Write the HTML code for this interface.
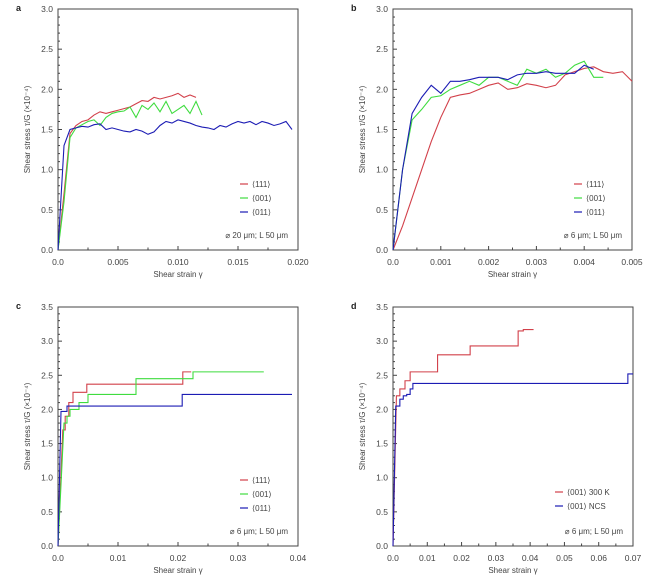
<!DOCTYPE html>
<html><head><meta charset="utf-8"><style>
body{margin:0;background:#fff;}
svg{display:block;font-family:"Liberation Sans",sans-serif;}
.tk{font-size:8.5px;fill:#444;}
.tt{font-size:8px;fill:#444;}
</style></head><body>
<svg id="c" width="650" height="582" viewBox="0 0 650 582"></svg>
<script>
// Panel a data
const aX = [0,0.0005,0.001,0.0015,0.002,0.0025,0.003,0.0035,0.004,0.0045,0.005,0.0055,0.006,0.0065,0.007,0.0075,0.008,0.0085,0.009,0.0095,0.010,0.0105,0.011,0.0115,0.012,0.0125,0.013,0.0135,0.014,0.0145,0.015,0.0155,0.016,0.0165,0.017,0.0175,0.018,0.0185,0.019,0.0195];
const aRed = [0,0.7,1.45,1.55,1.6,1.62,1.68,1.72,1.7,1.72,1.74,1.76,1.78,1.82,1.86,1.85,1.9,1.88,1.9,1.92,1.95,1.9,1.93,1.9];
const aGreen = [0,0.6,1.4,1.52,1.56,1.6,1.62,1.55,1.65,1.7,1.72,1.73,1.78,1.65,1.8,1.75,1.83,1.72,1.85,1.7,1.75,1.8,1.7,1.85,1.68];
const aBlue = [0,1.3,1.5,1.52,1.54,1.53,1.56,1.57,1.5,1.52,1.5,1.48,1.47,1.5,1.48,1.44,1.47,1.55,1.6,1.58,1.62,1.6,1.58,1.55,1.53,1.52,1.5,1.55,1.53,1.57,1.6,1.58,1.6,1.56,1.6,1.58,1.55,1.57,1.6,1.5];
// Panel b data
const bX = [0,0.0002,0.0004,0.0006,0.0008,0.001,0.0012,0.0014,0.0016,0.0018,0.002,0.0022,0.0024,0.0026,0.0028,0.003,0.0032,0.0034,0.0036,0.0038,0.004,0.0042,0.0044,0.0046,0.0048,0.005];
const bRed = [0,0.3,0.65,1.0,1.35,1.65,1.9,1.93,1.95,2.0,2.05,2.08,2.0,2.02,2.07,2.05,2.02,2.05,2.18,2.22,2.26,2.28,2.22,2.2,2.22,2.1];
const bGreen = [0,1.0,1.62,1.75,1.9,1.92,2.0,2.05,2.1,2.05,2.15,2.15,2.1,2.05,2.25,2.2,2.25,2.15,2.2,2.3,2.35,2.15,2.15];
const bBlue = [0,1.0,1.7,1.9,2.05,1.95,2.1,2.1,2.12,2.15,2.15,2.15,2.12,2.18,2.2,2.2,2.22,2.2,2.2,2.2,2.3,2.25];
// Panel c data (step points)
const cRedX = [0,0.0008,0.0012,0.0018,0.0025,0.0048,0.0208,0.0222];
const cRedY = [0,1.7,1.9,2.1,2.25,2.37,2.55,2.55];
const cGreenX = [0,0.001,0.0015,0.002,0.0035,0.005,0.013,0.0225,0.0343];
const cGreenY = [0,1.8,1.9,2.0,2.1,2.22,2.45,2.55,2.55];
const cBlueX = [0,0.0005,0.0015,0.0207,0.039];
const cBlueY = [0,1.97,2.05,2.22,2.22];
// Panel d data
const dRedX = [0,0.001,0.002,0.0035,0.005,0.013,0.0225,0.0365,0.038,0.041];
const dRedY = [0,2.2,2.3,2.42,2.55,2.8,2.93,3.15,3.17,3.17];
const dBlueX = [0,0.0008,0.002,0.003,0.004,0.005,0.0058,0.0685,0.07];
const dBlueY = [0,2.05,2.15,2.2,2.22,2.3,2.38,2.52,2.52];
// ticks
const aXTicks = ["0.0","0.005","0.010","0.015","0.020"];
const bXTicks = ["0.0","0.001","0.002","0.003","0.004","0.005"];
const cXTicks = ["0.0","0.01","0.02","0.03","0.04"];
const dXTicks = ["0.0","0.01","0.02","0.03","0.04","0.05","0.06","0.07"];
const abYTicks = ["0.0","0.5","1.0","1.5","2.0","2.5","3.0"];
const cdYTicks = ["0.0","0.5","1.0","1.5","2.0","2.5","3.0","3.5"];

const NS="http://www.w3.org/2000/svg";
const svg=document.getElementById('c');
function mk(t,a,p){const e=document.createElementNS(NS,t);for(const k in a)e.setAttribute(k,a[k]);(p||svg).appendChild(e);return e;}
const RED="#d2404a",GREEN="#3fdc3f",BLUE="#1c1cb4";

function panel(id,L,R,T,B,xmax,ymax,xt,yt,letter,legend,note){
  const g=mk('g',{});
  
  
  const sx=v=>L+v/xmax*(R-L), sy=v=>B-v/ymax*(B-T);
  const fr=mk('rect',{x:L,y:T,width:R-L,height:B-T,fill:'none',stroke:'#444','stroke-width':1},g);
  
  
  xt.forEach((s,i)=>{const v=i*xmax/(xt.length-1);const x=sx(v);
    mk('line',{x1:x,x2:x,y1:B,y2:B-4,stroke:'#444'},g);
    if(i<xt.length-1){const xm=sx(v+xmax/(xt.length-1)/2);mk('line',{x1:xm,x2:xm,y1:B,y2:B-2.5,stroke:'#444'},g);}
    const t=mk('text',{x:x,y:B+15,'text-anchor':'middle',class:'tk'},g);t.textContent=s;
    
    
  });
  yt.forEach((s,i)=>{const v=i*ymax/(yt.length-1);const y=sy(v);
    mk('line',{x1:L,x2:L+4,y1:y,y2:y,stroke:'#444'},g);
    if(i<yt.length-1){for(let k=1;k<5;k++){const ym=sy(v+k*0.1);mk('line',{x1:L,x2:L+2,y1:ym,y2:ym,stroke:'#444'},g);}}
    const t=mk('text',{x:L-5,y:y+3,'text-anchor':'end',class:'tk'},g);t.textContent=s;
    
    
  });
  const xl=mk('text',{x:(L+R)/2,y:B+27,'text-anchor':'middle',class:'tt'},g);xl.textContent='Shear strain γ';
  
  
  const yx=L-28,yy=(T+B)/2;
  const yl=mk('text',{x:yx,y:yy,'text-anchor':'middle',class:'tt',transform:`rotate(-90 ${yx} ${yy})`},g);yl.textContent='Shear stress τ/G (×10⁻⁴)';
  
  
  const lt=mk('text',{x:L-42,y:T+2,'font-size':'9','font-weight':'bold',fill:'#222'},g);lt.textContent=letter;
  
  
  legend.forEach((e,i)=>{const y=B-(legend.length===3?66:54)+i*14;
    mk('line',{x1:R-58+(e[0].length>6?-20:0),x2:R-50+(e[0].length>6?-20:0),y1:y,y2:y,stroke:e[1],'stroke-width':1.2},g);
    const t=mk('text',{x:R-46+(e[0].length>6?-20:0),y:y+3,class:'tt'},g);t.textContent=e[0];
    
    
  });
  const nt=mk('text',{x:R-10,y:B-12,'text-anchor':'end',class:'tt'},g);nt.textContent=note;
  
  
  return {g,sx,sy};
}
function line(p,xs,ys,col,name,step){
  let d='';
  ys.forEach((y,i)=>{
    if(i===0){d+=`M${p.sx(xs[0])},${p.sy(y)}`;return;}
    if(step&&i>1){d+=`L${p.sx(xs[i])},${p.sy(ys[i-1])}L${p.sx(xs[i])},${p.sy(y)}`;}
    else d+=`L${p.sx(xs[i])},${p.sy(y)}`;
  });
  const e=mk('path',{d:d,fill:'none',stroke:col,'stroke-width':1.1},p.g);
  
  
}
const pa=panel('a',58,298,9,250,0.020,3.0,aXTicks,abYTicks,'a',[['⟨111⟩',RED],['⟨001⟩',GREEN],['⟨011⟩',BLUE]],'⌀ 20 μm; L 50 μm');
line(pa,aX,aRed,RED,'series-111');line(pa,aX,aGreen,GREEN,'series-001');line(pa,aX,aBlue,BLUE,'series-011');
const pb=panel('b',393,632,9,250,0.005,3.0,bXTicks,abYTicks,'b',[['⟨111⟩',RED],['⟨001⟩',GREEN],['⟨011⟩',BLUE]],'⌀ 6 μm; L 50 μm');
line(pb,bX,bRed,RED,'series-111');line(pb,bX,bGreen,GREEN,'series-001');line(pb,bX,bBlue,BLUE,'series-011');
const pc=panel('c',58,298,307,546,0.04,3.5,cXTicks,cdYTicks,'c',[['⟨111⟩',RED],['⟨001⟩',GREEN],['⟨011⟩',BLUE]],'⌀ 6 μm; L 50 μm');
line(pc,cRedX,cRedY,RED,'series-111',true);line(pc,cGreenX,cGreenY,GREEN,'series-001',true);line(pc,cBlueX,cBlueY,BLUE,'series-011',true);
const pd=panel('d',393,633,307,546,0.07,3.5,dXTicks,cdYTicks,'d',[['⟨001⟩ 300 K',RED],['⟨001⟩ NCS',BLUE]],'⌀ 6 μm; L 50 μm');
line(pd,dRedX,dRedY,RED,'series-300k',true);line(pd,dBlueX,dBlueY,BLUE,'series-ncs',true);
</script>
</body></html>
